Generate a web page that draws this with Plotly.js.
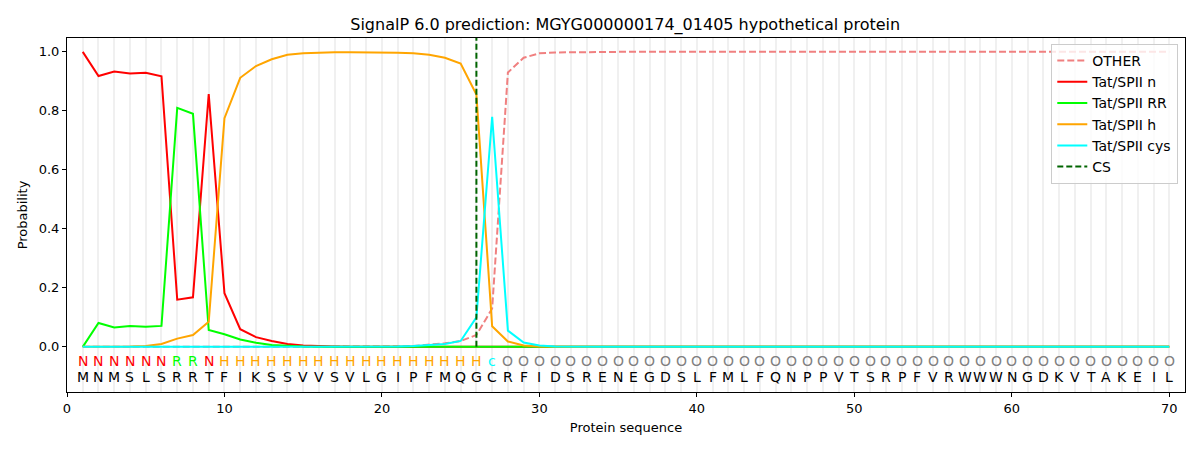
<!DOCTYPE html>
<html>
<head>
<meta charset="utf-8">
<script src="https://cdn.plot.ly/plotly-3.0.1.min.js"></script>
<style>
  html, body { margin: 0; padding: 0; background: #ffffff; }
  #chart { width: 1200px; height: 450px; }
</style>
</head>
<body>
<div id="chart"></div>
<script>
// Per-residue data
var sequence = 'MNMSLSRRTFIKSSVVSVLGIPFMQGCRFIDSRENEGDSLFMLFQNPPVTSRPFVRWWWNGDKVTAKEIL'.split('');
var regionLabels = 'NNNNNNRRNHHHHHHHHHHHHHHHHHc'.split('').concat(new Array(43).fill('O'));

var otherProb = [0, 0, 0, 0, 0, 0, 0, 0, 0, 0,
  0, 0, 0, 0, 0, 0, 0, 0, 0, 0,
  0.001, 0.003, 0.007, 0.012, 0.02, 0.04, 0.13, 0.93, 0.98, 0.995,
  0.998, 0.999, 1, 1, 1, 1, 1, 1, 1, 1,
  1, 1, 1, 1, 1, 1, 1, 1, 1, 1,
  1, 1, 1, 1, 1, 1, 1, 1, 1, 1,
  1, 1, 1, 1, 1, 1, 1, 1, 1, 1];
var nProb = [1.0, 0.918, 0.933, 0.927, 0.929, 0.917, 0.16, 0.168, 0.857, 0.182,
  0.06, 0.033, 0.02, 0.01, 0.005, 0.002, 0.001, 0, 0, 0,
  0, 0, 0, 0, 0, 0, 0, 0, 0, 0,
  0, 0, 0, 0, 0, 0, 0, 0, 0, 0,
  0, 0, 0, 0, 0, 0, 0, 0, 0, 0,
  0, 0, 0, 0, 0, 0, 0, 0, 0, 0,
  0, 0, 0, 0, 0, 0, 0, 0, 0, 0];
var rrProb = [0, 0.081, 0.066, 0.071, 0.068, 0.071, 0.81, 0.79, 0.057, 0.043,
  0.025, 0.014, 0.006, 0.003, 0.001, 0, 0, 0, 0, 0,
  0, 0, 0, 0, 0, 0, 0, 0, 0, 0,
  0, 0, 0, 0, 0, 0, 0, 0, 0, 0,
  0, 0, 0, 0, 0, 0, 0, 0, 0, 0,
  0, 0, 0, 0, 0, 0, 0, 0, 0, 0,
  0, 0, 0, 0, 0, 0, 0, 0, 0, 0];
var hProb = [0, 0, 0, 0.001, 0.003, 0.01, 0.028, 0.04, 0.085, 0.775,
  0.912, 0.952, 0.975, 0.99, 0.995, 0.998, 0.999, 0.999, 0.999, 0.999,
  0.997, 0.995, 0.99, 0.98, 0.96, 0.855, 0.07, 0.018, 0.005, 0.001,
  0, 0, 0, 0, 0, 0, 0, 0, 0, 0,
  0, 0, 0, 0, 0, 0, 0, 0, 0, 0,
  0, 0, 0, 0, 0, 0, 0, 0, 0, 0,
  0, 0, 0, 0, 0, 0, 0, 0, 0, 0];
var cysProb = [0, 0, 0, 0, 0, 0, 0, 0, 0, 0,
  0, 0, 0, 0, 0, 0, 0, 0, 0, 0,
  0.001, 0.003, 0.006, 0.01, 0.02, 0.1, 0.78, 0.055, 0.015, 0.005,
  0.001, 0, 0, 0, 0, 0, 0, 0, 0, 0,
  0, 0, 0, 0, 0, 0, 0, 0, 0, 0,
  0, 0, 0, 0, 0, 0, 0, 0, 0, 0,
  0, 0, 0, 0, 0, 0, 0, 0, 0, 0];
var csPosition = 26;

var labelColors = { N: '#ff0000', R: '#00ff00', H: '#ffa500', c: '#00ffff', O: '#808080' };

(function () {
  'use strict';

  var positions = sequence.map(function (_, i) { return i + 1; });
  var font = 'DejaVu Sans, sans-serif';

  function series(name, values, color, dash) {
    return {
      x: positions,
      y: values,
      type: 'scatter',
      mode: 'lines',
      name: name,
      line: { color: color, width: 2, dash: dash || 'solid' }
    };
  }

  var traces = [
    series('OTHER', otherProb, '#f08080', '7px,3px'),
    series('Tat/SPII n', nProb, '#ff0000'),
    series('Tat/SPII RR', rrProb, '#00ff00'),
    series('Tat/SPII h', hProb, '#ffa500'),
    series('Tat/SPII cys', cysProb, '#00ffff'),
    {
      x: [csPosition, csPosition],
      y: [0, 1.05],
      type: 'scatter',
      mode: 'lines',
      name: 'CS',
      line: { color: '#006400', width: 2, dash: '6px,3px' }
    }
  ];

  // Region labels and residue letters under the curves
  var annotations = [];
  positions.forEach(function (p, i) {
    annotations.push({
      x: p, y: -0.047, xref: 'x', yref: 'y',
      text: regionLabels[i], showarrow: false,
      font: { family: font, size: 14, color: labelColors[regionLabels[i]] }
    });
    annotations.push({
      x: p, y: -0.102, xref: 'x', yref: 'y',
      text: sequence[i], showarrow: false,
      font: { family: font, size: 14, color: '#000000' }
    });
  });

  var layout = {
    width: 1200,
    height: 450,
    paper_bgcolor: '#ffffff',
    plot_bgcolor: '#ffffff',
    font: { family: font, size: 13, color: '#000000' },
    title: {
      text: 'SignalP 6.0 prediction: MGYG000000174_01405 hypothetical protein',
      font: { size: 16 },
      x: 0.521, xanchor: 'center', y: 0.945, yanchor: 'middle'
    },
    margin: { l: 67, r: 15, t: 38, b: 58 },
    xaxis: {
      range: [0, 71],
      tickmode: 'linear', tick0: 0, dtick: 10,
      ticks: 'outside', ticklen: 4, tickcolor: '#000',
      showline: true, linecolor: '#000', linewidth: 1, mirror: true,
      showgrid: true, gridcolor: '#f0f0f0', gridwidth: 2,
      minor: { tick0: 0, dtick: 1, showgrid: true, gridcolor: '#f0f0f0', gridwidth: 2, ticks: '' },
      zeroline: false,
      title: { text: 'Protein sequence', font: { size: 13 }, standoff: 8 }
    },
    yaxis: {
      range: [-0.153, 1.047],
      tickmode: 'array',
      tickvals: [0, 0.2, 0.4, 0.6, 0.8, 1.0],
      ticktext: ['0.0', '0.2', '0.4', '0.6', '0.8', '1.0'],
      ticks: 'outside', ticklen: 4, tickcolor: '#000',
      showline: true, linecolor: '#000', linewidth: 1, mirror: true,
      showgrid: false, zeroline: false,
      title: { text: 'Probability', font: { size: 13 }, standoff: 8 }
    },
    legend: {
      x: 0.994, xanchor: 'right', y: 0.983, yanchor: 'top',
      bgcolor: 'rgba(255,255,255,0.8)', bordercolor: '#cccccc', borderwidth: 1,
      font: { size: 14 },
      tracegroupgap: 0
    },
    annotations: annotations,
    showlegend: true
  };

  Plotly.newPlot('chart', traces, layout, { displayModeBar: false, staticPlot: true });
})();
</script>
</body>
</html>
